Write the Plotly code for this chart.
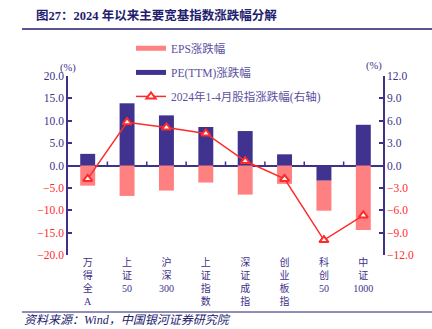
import plotly.graph_objects as go

# Index names (Chinese characters stacked vertically)
categories = ["万得全A", "上证50", "沪深300", "上证指数", "深证成指", "创业板指", "科创50", "中证1000"]
pe_change = [2.6, 13.9, 11.2, 8.6, 7.7, 2.5, -3.4, 9.1]
eps_change = [-4.5, -6.8, -5.6, -3.8, -6.5, -4.1, -6.7, -14.4]
index_change = [-1.8, 5.8, 5.1, 4.3, 0.6, -1.8, -10.0, -6.7]

left_ticks = [20, 15, 10, 5, 0, -5, -10, -15, -20]
right_ticks = [12, 9, 6, 3, 0, -3, -6, -9, -12]

NAVY = "#3d3189"
BAR_NAVY = "#40338f"
SALMON = "#ff8080"
RED = "#ff2a2a"
DARK = "#221c6e"
LEGEND_TXT = "#5a4fa0"
FONT = "Liberation Serif, Noto Sans CJK SC, serif"


def tick_text(vals):
    out = []
    for v in vals:
        if v < 0:
            out.append(f"<span style='color:{RED}'>\u2212{abs(v):.1f}</span>")
        else:
            out.append(f"{v:.1f}")
    return out


def vertical(label):
    # one Chinese character per line, digit runs kept together
    parts, buf = [], ""
    for ch in label:
        if ch.isdigit():
            buf += ch
        else:
            if buf:
                parts.append(buf)
                buf = ""
            parts.append(ch)
    if buf:
        parts.append(buf)
    return "<br>".join(parts)


xs = list(range(len(categories)))
xlabels = [vertical(c) for c in categories]

fig = go.Figure()
# PE first so it stacks nearest to zero
fig.add_trace(go.Bar(
    x=xs, y=pe_change, name="PE(TTM)涨跌幅", marker=dict(color=BAR_NAVY, line=dict(width=0)),
    width=0.38, showlegend=False,
))
fig.add_trace(go.Bar(
    x=xs, y=eps_change, name="EPS涨跌幅", marker=dict(color=SALMON, line=dict(width=0)),
    width=0.38, showlegend=False,
))
fig.add_trace(go.Scatter(
    x=xs, y=index_change, name="2024年1-4月股指涨跌幅(右轴)", yaxis="y2",
    mode="lines+markers",
    line=dict(color=RED, width=1.5),
    marker=dict(symbol="triangle-up", size=8, color="white", line=dict(color=RED, width=2)),
    legend="legend3", showlegend=True,
))

# Legend keys for the bar series: wide flat swatches
fig.add_trace(go.Scatter(x=[None], y=[None], mode="lines", name="EPS涨跌幅",
                         line=dict(color=SALMON, width=5), legend="legend", showlegend=True))
fig.add_trace(go.Scatter(x=[None], y=[None], mode="lines", name="PE(TTM)涨跌幅",
                         line=dict(color=BAR_NAVY, width=5), legend="legend2", showlegend=True))

legend_common = dict(
    xanchor="left", yanchor="middle", x=0.2,
    bgcolor="rgba(0,0,0,0)", font=dict(family=FONT, size=11.5, color=LEGEND_TXT),
    itemwidth=30,
)

fig.update_layout(
    width=432, height=329,
    margin=dict(l=68, r=49, t=76, b=74, autoexpand=False),
    paper_bgcolor="white", plot_bgcolor="white",
    barmode="relative",
    showlegend=True,
    font=dict(family=FONT, size=11.5, color=NAVY),
    legend=dict(y=1.155, **legend_common),
    legend2=dict(y=1.02, **legend_common),
    legend3=dict(y=0.886, **legend_common),
    xaxis=dict(
        range=[-0.5, len(categories) - 0.5],
        tickvals=xs, ticktext=xlabels, tickangle=0, automargin=False,
        tickfont=dict(family=FONT, size=10, color=NAVY),
        showline=False, showgrid=False, ticks="", zeroline=False,
    ),
    yaxis=dict(
        range=[-20, 20], tickvals=left_ticks, ticktext=tick_text(left_ticks),
        showgrid=False, showline=True, linecolor=NAVY, linewidth=1.5, automargin=False,
        ticks="inside", ticklen=4, tickcolor=NAVY, tickwidth=1.5,
        zeroline=True, zerolinecolor=NAVY, zerolinewidth=1.5,
        tickfont=dict(color=NAVY, size=11.5),
    ),
    yaxis2=dict(
        range=[-12, 12], tickvals=right_ticks, ticktext=tick_text(right_ticks),
        overlaying="y", side="right", anchor="x", automargin=False,
        showgrid=False, showline=True, linecolor=NAVY, linewidth=1.5,
        ticks="inside", ticklen=4, tickcolor=NAVY, tickwidth=1.5,
        zeroline=False, tickfont=dict(color=NAVY, size=11.5),
    ),
)

# Small category-boundary ticks above the zero line
for b in range(len(categories) - 1):
    fig.add_shape(type="line", xref="x", yref="y", x0=b + 0.5, x1=b + 0.5, y0=0, y1=0.9,
                  line=dict(color=NAVY, width=1.5))

# Title, rules and source note
fig.add_annotation(text="<b>图27：2024 年以来主要宽基指数涨跌幅分解</b>", xref="paper", yref="paper",
                   x=(156 - 68) / 315, y=(255 - 15) / 179, xanchor="center", yanchor="middle",
                   showarrow=False, font=dict(family=FONT, size=12.5, color=DARK))
fig.add_shape(type="line", xref="paper", yref="paper", x0=(22 - 68) / 315, x1=(432 - 68) / 315,
              y0=(255 - 29) / 179, y1=(255 - 29) / 179, line=dict(color=DARK, width=1.5))
fig.add_shape(type="line", xref="paper", yref="paper", x0=(22 - 68) / 315, x1=(432 - 68) / 315,
              y0=(255 - 312) / 179, y1=(255 - 312) / 179, line=dict(color=DARK, width=1))
fig.add_annotation(text="<i>资料来源：Wind，中国银河证券研究院</i>", xref="paper", yref="paper",
                   x=(22 - 68) / 315, y=(255 - 320) / 179, xanchor="left", yanchor="middle", showarrow=False,
                   font=dict(family=FONT, size=12, color=DARK))
fig.add_annotation(text="(%)", xref="paper", yref="paper", x=0.0, y=(255 - 68) / 179,
                   xanchor="center", yanchor="middle", showarrow=False,
                   font=dict(family=FONT, size=10.5, color=NAVY))
fig.add_annotation(text="(%)", xref="paper", yref="paper", x=(374 - 68) / 315, y=(255 - 66) / 179,
                   xanchor="center", yanchor="middle", showarrow=False,
                   font=dict(family=FONT, size=10.5, color=NAVY))

fig.write_html("out.html")
